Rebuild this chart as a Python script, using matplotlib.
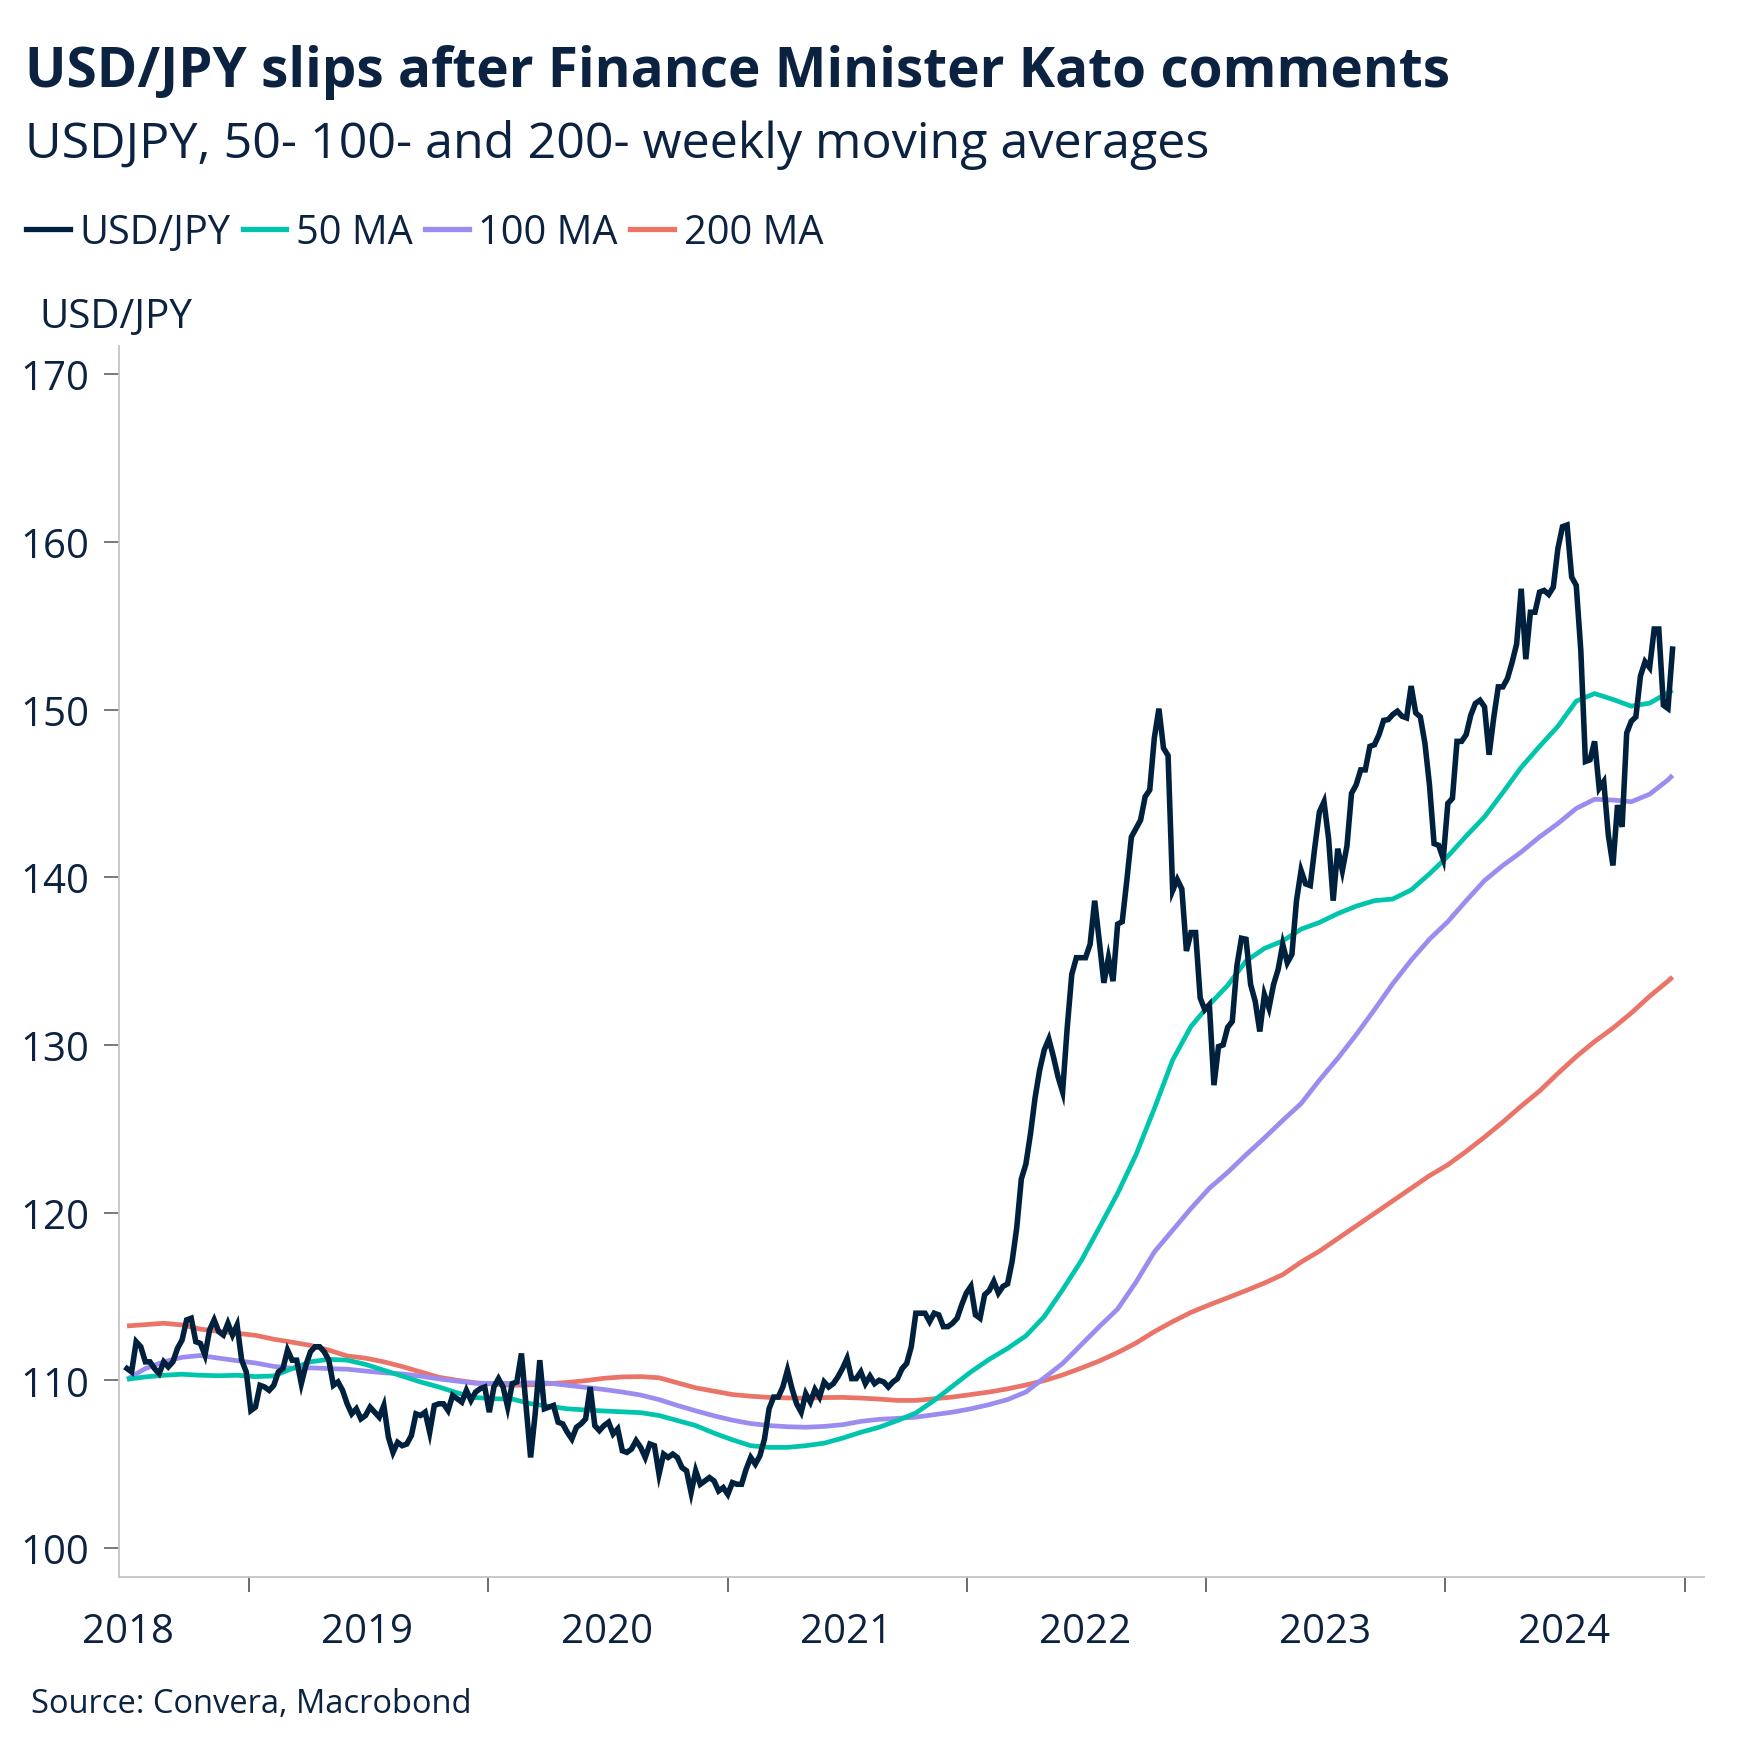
import numpy as np
import pandas as pd
import matplotlib
matplotlib.use('Agg')
import matplotlib.pyplot as plt
import matplotlib.dates as mdates
from matplotlib.lines import Line2D

plt.rcParams['font.family'] = ['Open Sans', 'DejaVu Sans']

# Weekly USD/JPY closes, first week 2018-06-29
start = '2018-06-29'
usdjpy = [
    110.7, 110.5, 112.3, 112.0, 111.1, 111.1, 110.7, 110.4, 111.1, 110.8,
    111.1, 111.9, 112.4, 113.6, 113.7, 112.3, 112.2, 111.5, 113.0, 113.6,
    112.9, 112.7, 113.4, 112.7, 113.3, 111.2, 110.5, 108.2, 108.4, 109.7,
    109.6, 109.4, 109.7, 110.5, 110.7, 111.8, 111.2, 111.2, 109.8, 110.9,
    111.7, 112.0, 112.0, 111.7, 111.2, 109.7, 109.9, 109.4, 108.6, 108.0,
    108.3, 107.7, 107.9, 108.4, 108.1, 107.8, 108.5, 106.6, 105.7, 106.3,
    106.1, 106.2, 106.7, 108.0, 107.9, 108.1, 106.9, 108.5, 108.6, 108.6,
    108.2, 109.1, 108.9, 108.7, 109.4, 108.8, 109.3, 109.5, 109.6, 108.1,
    109.6, 110.1, 109.6, 108.4, 109.8, 109.9, 111.6, 108.5, 105.4, 108.0,
    111.2, 108.3, 108.4, 108.5, 107.5, 107.4, 106.9, 106.5, 107.2, 107.4,
    107.7, 109.6, 107.3, 107.0, 107.3, 107.5, 106.8, 107.1, 105.8, 105.7,
    105.9, 106.4, 106.0, 105.4, 106.2, 106.1, 104.4, 105.6, 105.4, 105.6,
    105.4, 104.8, 104.6, 103.3, 104.6, 103.8, 104.0, 104.2, 104.0, 103.4,
    103.6, 103.2, 103.9, 103.8, 103.8, 104.7, 105.4, 105.0, 105.5, 106.5,
    108.3, 109.0, 109.0, 109.6, 110.6, 109.5, 108.6, 108.1, 109.2, 108.7,
    109.45, 109.0, 109.9, 109.6, 109.8, 110.2, 110.7, 111.3, 110.1, 110.1,
    110.5, 109.8, 110.25, 109.8, 110.0, 109.9, 109.6, 109.9, 110.1, 110.7,
    111.0, 112.0, 114.0, 114.0, 114.0, 113.5, 114.0, 113.9, 113.2, 113.2,
    113.4, 113.7, 114.5, 115.2, 115.6, 113.9, 113.7, 115.1, 115.35, 115.9,
    115.2, 115.6, 115.75, 117.1, 119.1, 122.0, 122.9, 124.7, 126.85, 128.5,
    129.7, 130.35, 129.3, 128.1, 127.2, 131.0, 134.2, 135.2, 135.2, 135.2,
    136.0, 138.6, 136.2, 133.7, 135.2, 133.8, 137.2, 137.35, 139.8, 142.4,
    142.9, 143.4, 144.8, 145.2, 148.3, 150.05, 147.7, 147.25, 139.2, 139.86,
    139.3, 135.6, 136.7, 136.7, 132.8, 132.1, 132.4, 127.6, 129.9, 130.0,
    131.05, 131.4, 134.7, 136.36, 136.3, 133.6, 132.6, 130.8, 133.0, 132.2,
    133.6, 134.5, 136.0, 134.9, 135.4, 138.6, 140.4, 139.6, 139.5, 141.8,
    143.9, 144.5, 142.3, 138.6, 141.7, 140.4, 141.85, 145.0, 145.5, 146.4,
    146.4, 147.8, 147.9, 148.5, 149.35, 149.4, 149.7, 149.9, 149.6, 149.5,
    151.4, 149.8, 149.56, 148.0, 145.5, 142.0, 141.9, 141.1, 144.4, 144.7,
    148.1, 148.1, 148.5, 149.66, 150.36, 150.55, 150.16, 147.3, 149.5, 151.35,
    151.35, 151.85, 152.8, 153.9, 157.2, 153.0, 155.8, 155.8, 157.0, 157.1,
    156.86, 157.3, 159.6, 160.9, 161.0, 157.9, 157.4, 153.5, 146.9, 147.0,
    148.1, 145.3, 145.7, 142.5, 140.7, 144.3, 143.0, 148.6, 149.3, 149.56,
    152.0, 152.85, 152.5, 154.8, 154.8, 150.26, 150.06, 153.6,
]

# Moving averages read every 4th week (plus the last week)
ma50 = [
    110.06, 110.2, 110.3, 110.36, 110.3, 110.27, 110.3, 110.22, 110.26, 110.7,
    111.1, 111.25, 111.2, 110.95, 110.6, 110.25, 109.9, 109.6, 109.25, 108.97,
    108.9, 108.88, 108.6, 108.45, 108.3, 108.23, 108.17, 108.12, 108.07, 107.9,
    107.6, 107.3, 106.85, 106.45, 106.1, 106.0, 106.0, 106.1, 106.25, 106.55,
    106.9, 107.2, 107.6, 108.05, 108.8, 109.65, 110.5, 111.25, 111.9, 112.65,
    113.8, 115.4, 117.1, 119.1, 121.15, 123.45, 126.2, 129.1, 131.1, 132.4,
    133.55, 135.0, 135.75, 136.2, 136.9, 137.3, 137.83, 138.27, 138.6, 138.7,
    139.24, 140.2, 141.25, 142.45, 143.6, 145.05, 146.55, 147.8, 149.0, 150.5,
    150.95, 150.6, 150.2, 150.38, 151.0, 151.15,
]
ma100 = [
    110.06, 110.7, 111.1, 111.37, 111.48, 111.32, 111.17, 111.03, 110.83, 110.72,
    110.74, 110.7, 110.66, 110.55, 110.45, 110.38, 110.25, 110.08, 109.95, 109.82,
    109.82, 109.82, 109.85, 109.83, 109.7, 109.58, 109.45, 109.3, 109.12, 108.85,
    108.5, 108.18, 107.88, 107.62, 107.42, 107.3, 107.23, 107.2, 107.25, 107.35,
    107.55, 107.67, 107.73, 107.8, 107.95, 108.1, 108.3, 108.55, 108.85, 109.3,
    110.15, 111.0, 112.1, 113.2, 114.25, 115.85, 117.65, 118.95, 120.25, 121.45,
    122.4, 123.45, 124.45, 125.5, 126.5, 127.9, 129.2, 130.6, 132.1, 133.65,
    135.05, 136.3, 137.35, 138.6, 139.8, 140.7, 141.5, 142.4, 143.2, 144.1,
    144.65, 144.6, 144.5, 144.95, 145.8, 146.08,
]
ma200 = [
    113.24, 113.32, 113.4, 113.3, 113.05, 112.92, 112.8, 112.68, 112.45, 112.27,
    112.08, 111.8, 111.45, 111.32, 111.1, 110.82, 110.5, 110.18, 110.0, 109.85,
    109.77, 109.7, 109.73, 109.8, 109.87, 109.98, 110.12, 110.2, 110.22, 110.15,
    109.85, 109.55, 109.35, 109.15, 109.05, 108.98, 108.95, 108.93, 108.97, 108.98,
    108.94, 108.88, 108.8, 108.8, 108.9, 109.0, 109.15, 109.3, 109.49, 109.72,
    109.98, 110.32, 110.72, 111.15, 111.65, 112.22, 112.9, 113.5, 114.05, 114.5,
    114.92, 115.35, 115.8, 116.3, 117.05, 117.7, 118.45, 119.2, 119.95, 120.7,
    121.45, 122.2, 122.85, 123.65, 124.5, 125.4, 126.35, 127.25, 128.3, 129.3,
    130.2, 131.0, 131.9, 132.9, 133.8, 134.05,
]

series_names = ['USD/JPY', '50 MA', '100 MA', '200 MA']
colors = ['#00213d', '#00c5ad', '#9b8cf0', '#ea7468']
text_color = '#0b2240'

weeks = pd.date_range(start, periods=len(usdjpy), freq='7D')
ma_idx = list(range(0, len(usdjpy), 4)) + [len(usdjpy) - 1]
ma_weeks = weeks[ma_idx]

W, H = 1752, 1756
fig = plt.figure(figsize=(W / 100, H / 100), dpi=100)
ax = fig.add_axes([118.5 / W, 1 - 1578 / H, (1704 - 118.5) / W, (1578 - 346.6) / H])

ax.plot(ma_weeks, ma200, color=colors[3], lw=3.4, solid_capstyle='butt', zorder=2)
ax.plot(ma_weeks, ma100, color=colors[2], lw=3.4, solid_capstyle='butt', zorder=3)
ax.plot(ma_weeks, ma50, color=colors[1], lw=3.4, solid_capstyle='butt', zorder=4)
ax.plot(weeks, usdjpy, color=colors[0], lw=4.0, solid_joinstyle='miter', zorder=5)

ax.set_xlim(pd.Timestamp('2018-06-16'), pd.Timestamp('2025-01-30'))
ax.set_ylim(98.27, 171.7)

for s in ['top', 'right']:
    ax.spines[s].set_visible(False)
for s in ['left', 'bottom']:
    ax.spines[s].set_color('#c4c4c4')
    ax.spines[s].set_linewidth(1.3)

ax.set_yticks(range(100, 171, 10))
ax.tick_params(axis='y', length=10.8, width=1.1, color='#555555', pad=10.5,
               labelsize=29, labelcolor=text_color)

ax.xaxis.set_major_locator(mdates.YearLocator())
ax.xaxis.set_major_formatter(plt.NullFormatter())
ax.xaxis.set_minor_locator(mdates.MonthLocator(bymonth=7))
ax.xaxis.set_minor_formatter(mdates.DateFormatter('%Y'))
ax.tick_params(axis='x', which='major', length=10.8, width=1.1, color='#444444')
ax.tick_params(axis='x', which='minor', length=0, pad=25, labelsize=29,
               labelcolor=text_color)

# Titles
fig.text(25 / W, 1 - 87 / H, 'USD/JPY slips after Finance Minister Kato comments',
         fontsize=39.5, fontweight='bold', color=text_color, va='baseline')
fig.text(25 / W, 1 - 158 / H, 'USDJPY, 50- 100- and 200- weekly moving averages',
         fontsize=36.2, color=text_color, va='baseline')
fig.text(39.5 / W, 1 - 328 / H, 'USD/JPY', fontsize=29, color=text_color, va='baseline')
fig.text(31 / W, 1 - 1713 / H, 'Source: Convera, Macrobond', fontsize=23.5,
         color=text_color, va='baseline')

# Legend
handles = [Line2D([], [], color=c, lw=3.8) for c in colors]
fig.legend(handles, series_names, loc='center left',
           bbox_to_anchor=(26 / W, 1 - 234 / H), ncol=4, frameon=False,
           fontsize=28.6, handlelength=1.1, handletextpad=0.25, columnspacing=0.3,
           borderpad=0, borderaxespad=0, labelcolor=text_color)

fig.savefig('out.png', dpi=100)
